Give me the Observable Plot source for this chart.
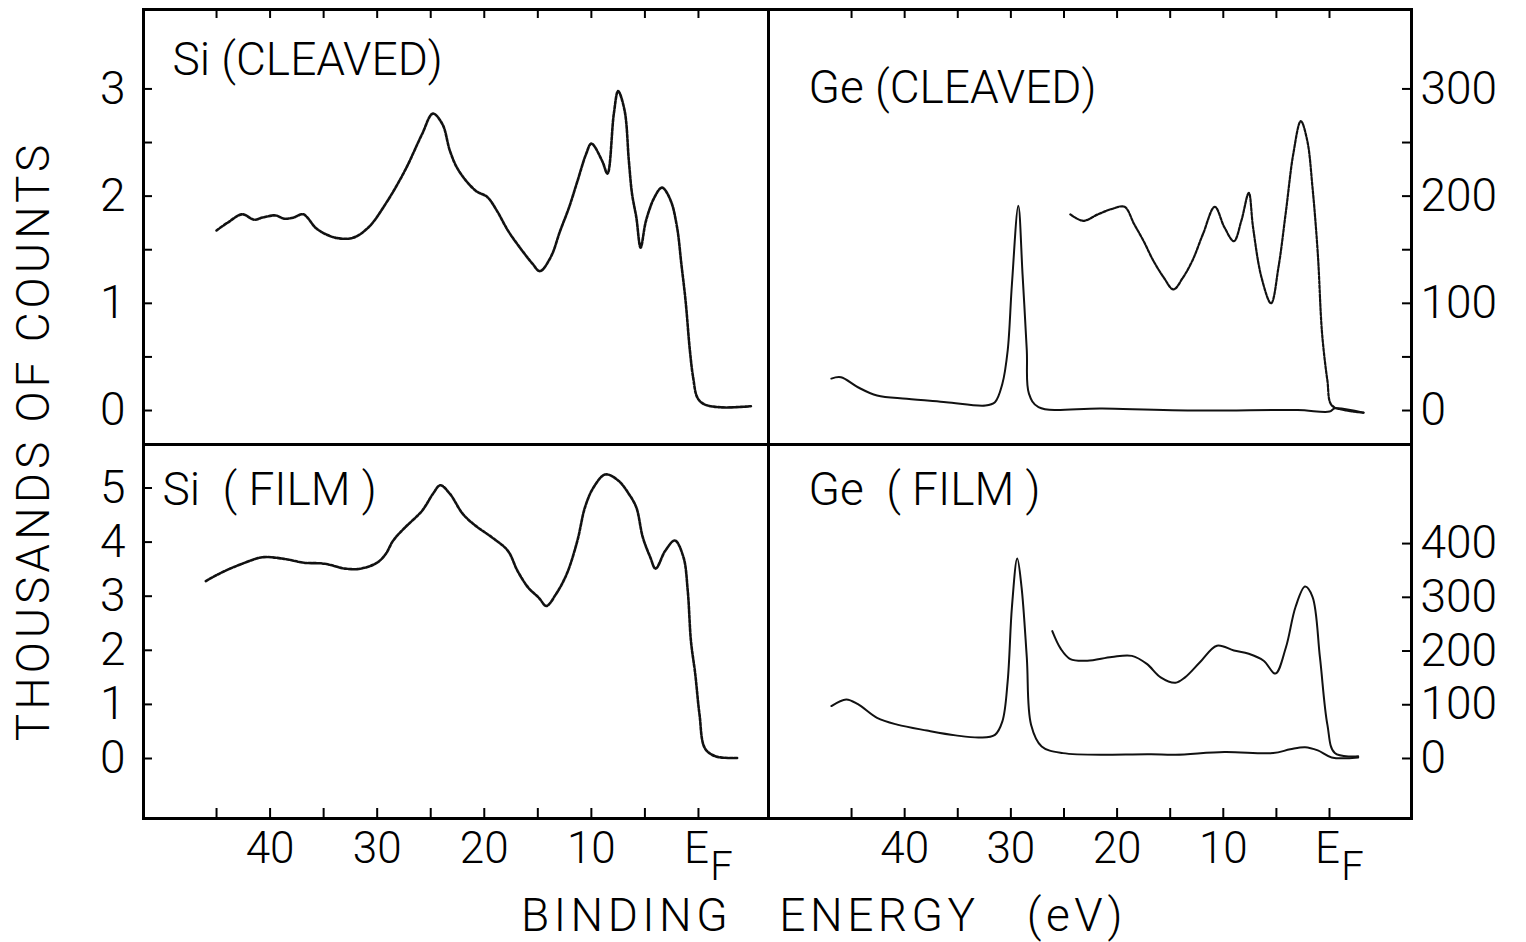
<!DOCTYPE html>
<html>
<head>
<meta charset="utf-8">
<script src="https://cdn.jsdelivr.net/npm/d3@7"></script>
<script src="https://cdn.jsdelivr.net/npm/@observablehq/plot@0.6"></script>
<style>
  html, body { margin: 0; padding: 0; background: #fff; }
  #wrap { position: relative; width: 1526px; height: 942px; overflow: hidden; background: #fff;
          font-family: Roboto, "Open Sans", "DejaVu Sans", sans-serif; font-weight: 300; color: #000; }
  #wrap svg { position: absolute; left: 0; top: 0; }
  .lbl { position: absolute; white-space: pre; font-size: 46px; line-height: 1; }
</style>
</head>
<body>
<div id="wrap"></div>
<script>
// ---------------- DATA ----------------
// Binding energy axis (eV): tick marks every 5 eV, labels every 10 eV, 0 = E_F
const xTickValues = [45, 40, 35, 30, 25, 20, 15, 10, 5, 0];
const xLabelValues = [40, 30, 20, 10];
const fermiValue = [0];

// Panel titles
const panelTitles = ["Si (CLEAVED)", "Ge (CLEAVED)", "Si  ( FILM )", "Ge  ( FILM )"];

// Y axis ticks / labels
const siCleavedYTicks = [0, 0.5, 1, 1.5, 2, 2.5, 3];
const siCleavedYLabels = [0, 1, 2, 3];
const siFilmYTicks = [0, 1, 2, 3, 4, 5];
const siFilmYLabels = [0, 1, 2, 3, 4, 5];
const geCleavedYTicks = [0, 50, 100, 150, 200, 250, 300];
const geCleavedYLabels = [0, 100, 200, 300];
const geFilmYTicks = [0, 100, 200, 300, 400];
const geFilmYLabels = [0, 100, 200, 300, 400];

// Si (cleaved): thousands of counts
const siCleavedEnergy = [45.0, 44.0, 42.6, 41.5, 40.7, 39.5, 38.7, 37.8, 36.9, 35.7, 34.7, 33.8, 32.3, 30.8, 29.2, 27.4, 25.8, 24.8, 23.9, 23.2, 22.4, 20.8, 19.7, 18.8, 17.8, 16.6, 15.5, 14.8, 13.8, 12.9, 12.1, 11.3, 10.5, 10.0, 9.0, 8.5, 7.9, 7.5, 6.9, 6.5, 6.2, 5.8, 5.4, 4.9, 4.1, 3.4, 2.6, 2.0, 1.6, 1.2, 0.8, 0.5, 0.1, -0.5, -2.1, -4.9];
const siCleavedCounts = [1.68, 1.75, 1.83, 1.78, 1.80, 1.82, 1.79, 1.80, 1.83, 1.70, 1.64, 1.61, 1.61, 1.71, 1.93, 2.24, 2.58, 2.77, 2.67, 2.42, 2.24, 2.05, 1.99, 1.86, 1.68, 1.51, 1.37, 1.30, 1.43, 1.68, 1.89, 2.14, 2.39, 2.49, 2.33, 2.21, 2.77, 2.98, 2.80, 2.33, 2.02, 1.80, 1.52, 1.77, 1.99, 2.08, 1.96, 1.71, 1.37, 1.02, 0.56, 0.31, 0.12, 0.06, 0.03, 0.04];

// Si (film): thousands of counts
const siFilmEnergy = [46.0, 44.5, 42.6, 40.7, 38.7, 36.9, 34.9, 33.0, 31.5, 30.0, 29.2, 28.5, 27.4, 25.8, 24.8, 24.1, 23.2, 22.0, 20.8, 19.3, 17.8, 16.9, 15.9, 14.9, 14.2, 13.3, 12.3, 11.3, 10.6, 9.8, 8.7, 7.5, 6.5, 5.8, 5.2, 4.5, 4.0, 3.1, 2.2, 1.4, 1.0, 0.7, 0.3, -0.1, -0.6, -1.6, -3.7];
const siFilmCounts = [3.28, 3.44, 3.60, 3.72, 3.69, 3.62, 3.60, 3.51, 3.51, 3.62, 3.78, 4.03, 4.27, 4.58, 4.89, 5.05, 4.89, 4.52, 4.30, 4.09, 3.84, 3.47, 3.16, 2.97, 2.82, 3.04, 3.41, 4.03, 4.64, 5.01, 5.25, 5.14, 4.89, 4.64, 4.09, 3.72, 3.51, 3.84, 4.03, 3.72, 3.10, 2.17, 1.56, 0.81, 0.19, 0.04, 0.01];

// Ge (cleaved): wide scan (with 3d peak) and expanded valence band, right-axis units
const geCleavedWideEnergy = [46.9, 46.0, 44.4, 42.6, 39.8, 36.1, 32.4, 31.5, 30.8, 30.3, 29.9, 29.3, 28.9, 28.5, 28.3, 27.4, 21.4, 12.2, 3.0, 0.0, -0.5, -3.2];
const geCleavedWideCounts = [29.8, 31, 21.7, 14, 10.9, 7.8, 4.7, 7.8, 25, 56, 118, 191, 127, 56, 15.8, 3.1, 1.9, 0, 0.5, -1, 2, -2];
const geCleavedValenceEnergy = [24.4, 23.2, 21.8, 20.5, 19.3, 18.4, 17.5, 16.6, 15.6, 14.7, 13.8, 12.9, 11.9, 10.8, 9.9, 9.0, 8.3, 7.6, 7.2, 6.4, 5.5, 4.8, 4.1, 3.4, 2.7, 2.1, 1.6, 1.1, 0.7, 0.2, -0.2, -1.6, -3.2];
const geCleavedValenceCounts = [183, 177, 183, 188, 190, 174, 158, 140, 124, 113, 124, 140, 165, 190, 171, 158, 177, 203, 171, 124, 100, 134, 186, 240, 270, 252, 208, 146, 72, 28, 5, 0, -2];

// Ge (film): wide scan and expanded valence band, right-axis units
const geFilmWideEnergy = [46.9, 45.5, 44.4, 42.6, 40.7, 37.9, 35.2, 32.9, 31.5, 30.8, 30.3, 29.9, 29.4, 29.0, 28.5, 28.1, 27.1, 25.1, 16.8, 14.5, 9.9, 5.3, 3.7, 2.3, 1.1, -0.2, -2.7];
const geFilmWideCounts = [97.6, 110, 101, 75.6, 63, 52, 43, 39, 44, 69, 144, 282, 372, 320, 188, 63, 22.5, 10, 8, 7, 12, 10, 17, 21, 15, 2, 2];
const geFilmValenceEnergy = [26.1, 25.3, 24.4, 22.8, 20.5, 18.6, 17.2, 15.9, 14.5, 13.6, 12.2, 10.6, 9.0, 7.6, 6.2, 5.1, 4.1, 3.2, 2.3, 1.6, 0.9, 0.2, -0.5, -2.7];
const geFilmValenceCounts = [237, 204, 185, 182, 189, 191, 176, 151, 141, 151, 179, 210, 201, 195, 182, 158, 207, 282, 320, 301, 188, 63, 10, 4];

// ---------------- BUILD ----------------
const toRows = (E, V) => E.map((e, i) => ({E: e, v: V[i]}));
const W = 1526, H = 942;
const FONT = 'Roboto, "Open Sans", "DejaVu Sans", sans-serif';
const edge = {left: 143, mid: 768, right: 1411, top: 9, midY: 444, bottom: 818};

function panel(cfg) {
  const {x0, x1, y0, y1} = cfg.box;
  const pw = x1 - x0, ph = y1 - y0;
  const marks = [];
  for (const s of cfg.series) {
    marks.push(Plot.line(s.data, {x: "E", y: "v", stroke: "#111", strokeWidth: s.width, strokeDasharray: s.dash, curve: "catmull-rom"}));
  }
  marks.push(Plot.frame({stroke: "#000", strokeWidth: 3}));
  marks.push(Plot.tickY(cfg.yTicks, {y: d => d, stroke: "#000", strokeWidth: 2,
    ...(cfg.side === "left" ? {insetRight: pw - 9} : {insetLeft: pw - 9})}));
  marks.push(Plot.axisY(cfg.yLabels, {anchor: cfg.side, tickSize: 0, tickPadding: cfg.side === "left" ? 18 : 9,
    label: null, fontSize: 46, tickFormat: d => String(d)}));
  if (cfg.row === "top") {
    marks.push(Plot.tickX(xTickValues, {x: d => d, insetBottom: ph - 9, stroke: "#000", strokeWidth: 2}));
  } else {
    marks.push(Plot.tickX(xTickValues, {x: d => d, insetTop: ph - 10, stroke: "#000", strokeWidth: 2}));
    marks.push(Plot.axisX(xLabelValues, {anchor: "bottom", tickSize: 0, tickPadding: 13, label: null, fontSize: 44, tickFormat: d => String(d)}));
    marks.push(Plot.text(fermiValue, {x: d => d, text: () => "E", frameAnchor: "bottom", lineAnchor: "top", dy: 13, dx: -2, fontSize: 44}));
    marks.push(Plot.text(fermiValue, {x: d => d, text: () => "F", frameAnchor: "bottom", lineAnchor: "top", dy: 33, dx: 23, fontSize: 40}));
  }
  marks.push(Plot.text([cfg.title], {text: d => d, frameAnchor: "top-left", textAnchor: "start", lineAnchor: "middle",
    dx: cfg.titleDx, dy: cfg.titleDy, fontSize: 46}));
  return Plot.plot({
    width: W, height: H,
    marginLeft: x0, marginRight: W - x1, marginTop: y0, marginBottom: H - y1,
    x: {domain: cfg.xDomain, axis: null},
    y: {domain: cfg.yDomain, axis: null},
    style: {background: "none", overflow: "visible", fontFamily: FONT, fontWeight: 300, fontSize: "46px", color: "#000"},
    marks
  });
}

const leftX = [51.82, -6.54];
const rightX = [52.82, -7.72];

const wrap = document.getElementById("wrap");

wrap.appendChild(panel({
  box: {x0: edge.left, x1: edge.mid, y0: edge.top, y1: edge.midY}, row: "top", side: "left",
  xDomain: leftX, yDomain: [-0.317, 3.741],
  yTicks: siCleavedYTicks, yLabels: siCleavedYLabels,
  series: [{data: toRows(siCleavedEnergy, siCleavedCounts), width: 2.6, dash: "3,1.5"}],
  title: panelTitles[0], titleDx: 29, titleDy: 51
}));
wrap.appendChild(panel({
  box: {x0: edge.mid, x1: edge.right, y0: edge.top, y1: edge.midY}, row: "top", side: "right",
  xDomain: rightX, yDomain: [-31.7, 374.1],
  yTicks: geCleavedYTicks, yLabels: geCleavedYLabels,
  series: [
    {data: toRows(geCleavedWideEnergy, geCleavedWideCounts), width: 2, dash: null},
    {data: toRows(geCleavedValenceEnergy, geCleavedValenceCounts), width: 2.2, dash: "3,1.5"}
  ],
  title: panelTitles[1], titleDx: 40, titleDy: 79
}));
wrap.appendChild(panel({
  box: {x0: edge.left, x1: edge.mid, y0: edge.midY, y1: edge.bottom}, row: "bottom", side: "left",
  xDomain: leftX, yDomain: [-1.109, 5.804],
  yTicks: siFilmYTicks, yLabels: siFilmYLabels,
  series: [{data: toRows(siFilmEnergy, siFilmCounts), width: 2.6, dash: "3,1.5"}],
  title: panelTitles[2], titleDx: 19, titleDy: 46
}));
wrap.appendChild(panel({
  box: {x0: edge.mid, x1: edge.right, y0: edge.midY, y1: edge.bottom}, row: "bottom", side: "right",
  xDomain: rightX, yDomain: [-111.7, 584.4],
  yTicks: geFilmYTicks, yLabels: geFilmYLabels,
  series: [
    {data: toRows(geFilmWideEnergy, geFilmWideCounts), width: 2, dash: null},
    {data: toRows(geFilmValenceEnergy, geFilmValenceCounts), width: 2, dash: null}
  ],
  title: panelTitles[3], titleDx: 40, titleDy: 46
}));

// Axis titles
const yTitle = document.createElement("div");
yTitle.className = "lbl";
yTitle.textContent = "THOUSANDS OF COUNTS";
Object.assign(yTitle.style, {left: "33px", top: "441px", letterSpacing: "4px", transform: "translate(-50%,-50%) rotate(-90deg)"});
wrap.appendChild(yTitle);

const xTitle = document.createElement("div");
xTitle.className = "lbl";
xTitle.textContent = "BINDING   ENERGY   (eV)";
Object.assign(xTitle.style, {left: "824px", top: "915px", letterSpacing: "4.5px", transform: "translate(-50%,-50%)"});
wrap.appendChild(xTitle);
</script>
</body>
</html>
